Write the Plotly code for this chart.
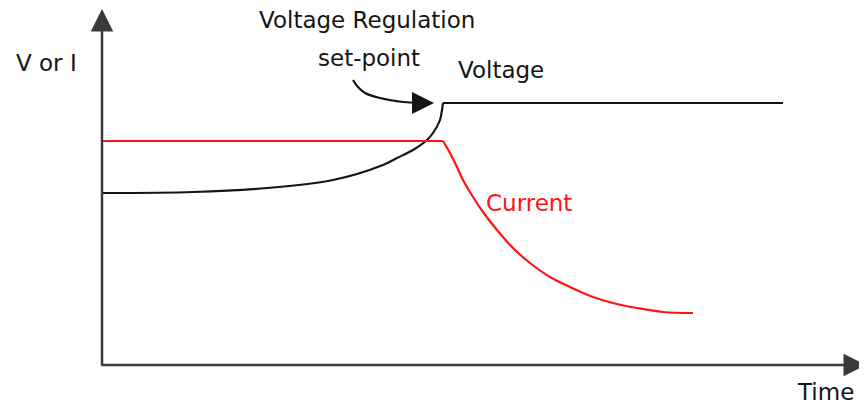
import plotly.graph_objects as go

# Voltage curve (time, value) - constant-current phase then regulation
volt_rise_t = [1, 91, 165, 231, 281, 295, 311, 325, 331, 338, 340, 341]
volt_rise_v = [172, 173, 177, 185, 200, 207, 215, 225, 232, 245, 255, 262]
volt_flat_t = [341, 681]
volt_flat_v = [262, 262]

# Current curve
curr_flat_t = [1, 341]
curr_flat_v = [224, 224]
curr_decay_t = [341, 348, 355, 361, 371, 381, 395, 411, 428, 448, 468, 491, 511, 535, 561, 591]
curr_decay_v = [224, 212, 198, 185, 168, 153, 135, 117, 102, 88, 78, 68, 62, 57, 53, 52]

# Curved pointer for the set-point label
ptr_t = [251, 256, 263, 278, 301, 318]
ptr_v = [285, 278, 272, 267, 263, 262]

AX_COLOR = "#3a3a3a"
INK = "#151515"
RED = "#ff1414"
FONT = "DejaVu Sans"

fig = go.Figure()
fig.add_trace(go.Scatter(x=volt_rise_t, y=volt_rise_v, mode="lines",
                         line=dict(color=INK, width=2.2, shape="spline", smoothing=0.9)))
fig.add_trace(go.Scatter(x=volt_flat_t, y=volt_flat_v, mode="lines",
                         line=dict(color=INK, width=2.2)))
fig.add_trace(go.Scatter(x=curr_flat_t, y=curr_flat_v, mode="lines",
                         line=dict(color=RED, width=2.2)))
fig.add_trace(go.Scatter(x=curr_decay_t, y=curr_decay_v, mode="lines",
                         line=dict(color=RED, width=2.2, shape="spline", smoothing=1.0)))
fig.add_trace(go.Scatter(x=ptr_t, y=ptr_v, mode="lines",
                         line=dict(color=INK, width=2.2, shape="spline", smoothing=1)))

anns = []
# axes with arrowheads
anns.append(dict(x=0, y=356, ax=0, ay=-2, xref="x", yref="y", axref="x", ayref="y",
                 text="", showarrow=True, arrowhead=2, arrowsize=1.8, arrowwidth=2.5,
                 arrowcolor=AX_COLOR))
anns.append(dict(x=764, y=0, ax=-2, ay=0, xref="x", yref="y", axref="x", ayref="y",
                 text="", showarrow=True, arrowhead=2, arrowsize=1.8, arrowwidth=2.5,
                 arrowcolor=AX_COLOR))
# pointer arrowhead
anns.append(dict(x=332, y=262, ax=316, ay=262, xref="x", yref="y", axref="x", ayref="y",
                 text="", showarrow=True, arrowhead=2, arrowsize=2.2, arrowwidth=2,
                 arrowcolor=INK))

def label(txt, x, y, color=INK, size=23):
    anns.append(dict(x=x, y=y, xref="x", yref="y", text=txt, showarrow=False,
                     font=dict(family=FONT, size=size, color=color),
                     xanchor="center", yanchor="middle"))

label("Voltage Regulation", 265, 345)
label("set-point", 267, 307)
label("Voltage", 399, 295)
label("V or I", -56, 302)
label("Current", 427, 162, color=RED)
label("Time", 723, -27)

# page body has an 8px margin: figure is sized/offset to compensate
fig.update_layout(
    width=859, height=396,
    margin=dict(l=0, r=0, t=0, b=0),
    paper_bgcolor="white", plot_bgcolor="white",
    showlegend=False,
    annotations=anns,
    xaxis=dict(range=[-94, 765], visible=False, fixedrange=True),
    yaxis=dict(range=[-39, 357], visible=False, fixedrange=True),
)
fig.write_html("out.html")
